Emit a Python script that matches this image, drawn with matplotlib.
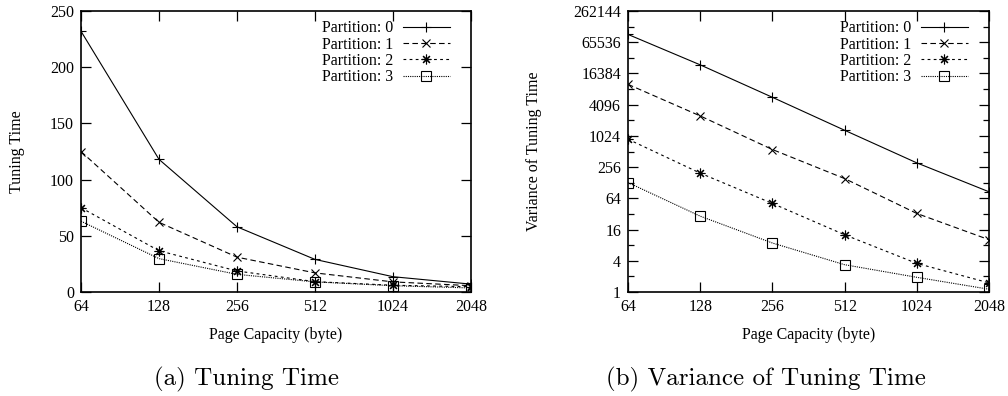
import matplotlib
matplotlib.use("Agg")
import matplotlib.pyplot as plt
from matplotlib.ticker import FixedLocator, FixedFormatter, NullFormatter

# ---- data ----
page_capacity = [64, 128, 256, 512, 1024, 2048]
x_tick_labels = ["64", "128", "256", "512", "1024", "2048"]
series_names = ["Partition: 0", "Partition: 1", "Partition: 2", "Partition: 3"]

tuning_p0 = [232, 118, 58, 29, 13.6, 7]
tuning_p1 = [125, 62, 31, 17, 9, 5.6]
tuning_p2 = [75, 36.7, 18.7, 9.2, 6, 4.7]
tuning_p3 = [63, 29.7, 15.7, 9, 5.6, 3.6]

var_p0 = [92682, 24000, 5680, 1315, 309, 85.6]
var_p1 = [10100, 2485, 559, 154, 32.7, 10.2]
var_p2 = [884, 196, 51, 12.7, 3.56, 1.5]
var_p3 = [129, 29, 8.8, 3.36, 1.92, 1.13]

left_yticks = [0, 50, 100, 150, 200, 250]
right_yticks = [1, 4, 16, 64, 256, 1024, 4096, 16384, 65536, 262144]
right_minor = [2 ** k for k in range(0, 19)]

plt.rcParams['font.family'] = ['Liberation Serif', 'DejaVu Serif']

W, H = 1008, 396
fig = plt.figure(figsize=(W / 100, H / 100), dpi=100)
FS = 11.5

def px(l, t, r, b):
    return [l / W, 1 - b / H, (r - l) / W, (b - t) / H]

styles = [
    dict(ls='-', marker='+', ms=7, mew=0.8),
    dict(ls=(0, (5, 3)), marker='x', ms=6, mew=0.8),
    dict(ls=(0, (2.5, 3)), marker=(8, 2, 0), ms=7, mew=0.8),
    dict(ls=(0, (1, 1)), marker='s', ms=6.5, mew=0.8, mfc='none'),
]

def style_axes(ax, wpx, ylab, ylab_x):
    for s in ax.spines.values():
        s.set_linewidth(1.2)
    ax.set_xscale('log', base=2)
    ax.set_xlim(64, 2048)
    ax.xaxis.set_major_locator(FixedLocator(page_capacity))
    ax.xaxis.set_major_formatter(FixedFormatter(x_tick_labels))
    ax.xaxis.set_minor_locator(FixedLocator([]))
    ax.tick_params(which='both', direction='in', top=True, right=True,
                   labelsize=FS, width=0.9, color='black')
    ax.tick_params(which='major', length=7, pad=5)
    ax.tick_params(which='minor', length=4)
    ax.set_xlabel("Page Capacity (byte)", fontsize=FS, va='center')
    ax.xaxis.set_label_coords(0.5, -(335 - 292) / 281)
    ax.set_ylabel(ylab, fontsize=FS, va='center')
    ax.yaxis.set_label_coords(ylab_x / wpx, 0.5)

def draw(ax, data, wpx):
    for name, ys, st in zip(series_names, data, styles):
        ax.plot(page_capacity, ys, color='black', lw=0.8, label=name, **st)
    ax.legend(loc='upper right', frameon=False, markerfirst=False,
              fontsize=FS, handlelength=2.9, handletextpad=0.65,
              labelspacing=0.02, borderaxespad=0.0,
              bbox_to_anchor=(1 - 15 / wpx, 1 - 3 / 281))

# left
w1 = 471 - 81
ax1 = fig.add_axes(px(81, 11, 471, 292))
style_axes(ax1, w1, "Tuning Time", 17 - 81)
draw(ax1, [tuning_p0, tuning_p1, tuning_p2, tuning_p3], w1)
ax1.set_ylim(0, 250)
ax1.yaxis.set_major_locator(FixedLocator(left_yticks))

# right
w2 = 989 - 628
ax2 = fig.add_axes(px(628, 11, 989, 292))
style_axes(ax2, w2, "Variance of Tuning Time", 534 - 628)
ax2.set_yscale('log', base=2)
draw(ax2, [var_p0, var_p1, var_p2, var_p3], w2)
ax2.set_ylim(1, 262144)
ax2.yaxis.set_major_locator(FixedLocator(right_yticks))
ax2.yaxis.set_major_formatter(FixedFormatter([str(v) for v in right_yticks]))
ax2.yaxis.set_minor_locator(FixedLocator(right_minor))
ax2.yaxis.set_minor_formatter(NullFormatter())

# captions
fig.text(247 / W, 1 - 379 / H, "(a) Tuning Time", fontfamily='cmr10',
         fontsize=18, ha='center', va='center')
fig.text(766 / W, 1 - 379 / H, "(b) Variance of Tuning Time", fontfamily='cmr10',
         fontsize=18, ha='center', va='center')

fig.savefig("out.png", dpi=100)
